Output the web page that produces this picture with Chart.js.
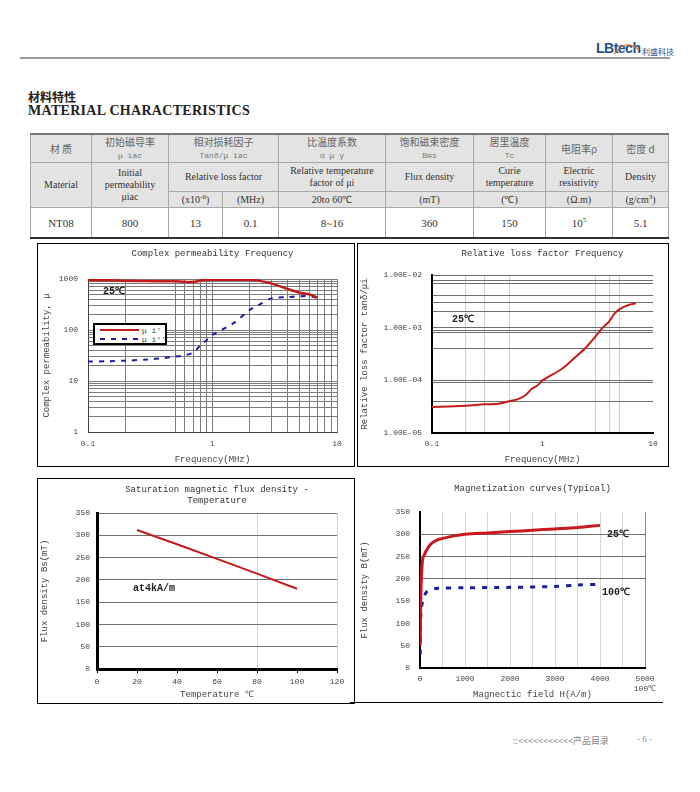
<!DOCTYPE html>
<html>
<head>
<meta charset="utf-8">
<script src="https://cdn.jsdelivr.net/npm/chart.js@4.4.0/dist/chart.umd.min.js"></script>
<style>
body{margin:0;background:#fff;}
#page{position:relative;width:700px;height:792px;overflow:hidden;background:#fff;color:#333;font-family:"Liberation Serif",serif;}
.abs{position:absolute;white-space:nowrap;}
.box{position:absolute;border:1px solid #000;box-sizing:border-box;pointer-events:none;}
canvas{position:absolute;}
table{position:absolute;left:30px;top:133px;width:638px;border-collapse:collapse;table-layout:fixed;}
td{border:1px solid #a8a8a8;text-align:center;vertical-align:middle;padding:0;font-size:10px;line-height:12px;color:#333;overflow:hidden;}
tr.h td{background:#e3e3e3;}
tr.r1 td{border-top:2px solid #777;height:27px;}
tr.r2 td{height:28px;}
tr.r3 td{height:15px;}
tr.r4 td{height:29px;border-bottom:2px solid #333;font-size:11px;background:#fff;}
.cn{font-family:"Noto Sans CJK SC",sans-serif;color:#666;font-size:10px;}
.sm{font-family:"Liberation Mono",monospace;font-size:8px;color:#777;}
sup{font-size:7px;line-height:0;vertical-align:super;}
#legend1{position:absolute;left:93px;top:323px;width:74px;height:22px;border:2px solid #000;box-sizing:border-box;background:#fff;}
</style>
</head>
<body>
<div id="page">
  <!-- header -->
  <div class="abs" style="left:596px;top:40px;font:bold 14px 'Liberation Sans',sans-serif;color:#1d4f91;letter-spacing:-0.5px;">LBtech</div>
  <svg class="abs" style="left:612px;top:40px;" width="30" height="18"><path d="M2 14 Q14 -2 27 10" stroke="#e07020" stroke-width="1.2" fill="none"/></svg>
  <div class="abs" style="left:642px;top:46px;font:8px 'Noto Sans CJK SC',sans-serif;color:#1d4f91;">利盛科技</div>
  <div class="abs" style="left:20px;top:57px;width:650px;height:2px;background:#9a9a9a;"></div>

  <div class="abs" style="left:28px;top:90px;font:bold 12px 'Noto Sans CJK SC',sans-serif;line-height:13px;color:#222;">材料特性</div>
  <div class="abs" style="left:28px;top:104px;font:bold 14px 'Liberation Serif',serif;line-height:14px;color:#222;letter-spacing:0.3px;">MATERIAL CHARACTERISTICS</div>

  <table>
    <colgroup><col style="width:61px"><col style="width:77px"><col style="width:54px"><col style="width:56px"><col style="width:107px"><col style="width:88px"><col style="width:72px"><col style="width:67px"><col style="width:56px"></colgroup>
    <tr class="h r1"><td class="cn">材 质</td><td class="cn">初始磁导率<br><span class="sm">μ iac</span></td><td colspan="2" class="cn">相对损耗因子<br><span class="sm">Tanδ/μ iac</span></td><td class="cn">比温度系数<br><span class="sm">α μ γ</span></td><td class="cn">饱和磁束密度<br><span class="sm">Bms</span></td><td class="cn">居里温度<br><span class="sm">Tc</span></td><td class="cn">电阻率ρ</td><td class="cn">密度 d</td></tr>
    <tr class="h r2"><td rowspan="2">Material</td><td rowspan="2">Initial<br>permeability<br>μiac</td><td colspan="2">Relative loss factor</td><td>Relative temperature<br>factor of μi</td><td>Flux density</td><td>Curie<br>temperature</td><td>Electric<br>resistivity</td><td>Density</td></tr>
    <tr class="h r3"><td>(x10<sup>-6</sup>)</td><td>(MHz)</td><td>20to 60℃</td><td>(mT)</td><td>(℃)</td><td>(Ω.m)</td><td>(g/cm<sup>3</sup>)</td></tr>
    <tr class="r4"><td>NT08</td><td>800</td><td>13</td><td>0.1</td><td>8~16</td><td>360</td><td>150</td><td>10<sup>5</sup></td><td>5.1</td></tr>
  </table>

  <!-- charts -->
  <canvas id="c1" width="317" height="223" style="left:37px;top:243px;"></canvas>
  <div class="box" style="left:37px;top:243px;width:318px;height:224px;"></div>
  <div id="legend1">
    <svg width="70" height="18" style="position:absolute;left:0;top:0;">
      <line x1="5" y1="5" x2="44" y2="5" stroke="#c41a1a" stroke-width="2"/>
      <text x="47" y="8" font-family="Liberation Mono" font-size="8" fill="#444">μ i'</text>
      <line x1="5" y1="14" x2="44" y2="14" stroke="#1c1ca0" stroke-width="2" stroke-dasharray="5,6"/>
      <text x="47" y="17" font-family="Liberation Mono" font-size="8" fill="#444">μ i''</text>
    </svg>
  </div>

  <canvas id="c2" width="311" height="223" style="left:357px;top:243px;"></canvas>
  <div class="box" style="left:357px;top:243px;width:312px;height:224px;"></div>

  <canvas id="c3" width="317" height="225" style="left:37px;top:478px;"></canvas>
  <div class="box" style="left:37px;top:478px;width:318px;height:226px;"></div>

  <canvas id="c4" width="311" height="225" style="left:357px;top:478px;"></canvas>
  <div class="abs" style="left:350px;top:702px;width:313px;height:1px;background:#000;"></div>

  <!-- footer -->
  <div class="abs" style="left:513px;top:734px;font:9px 'Noto Sans CJK SC',sans-serif;color:#888;">::&lt;&lt;&lt;&lt;&lt;&lt;&lt;&lt;&lt;&lt;&lt;产品目录</div>
  <div class="abs" style="left:637px;top:734px;font:9px 'Liberation Serif',serif;color:#888;">- 6 -</div>
</div>

<script>
// complex permeability vs frequency
const permFreq = [0.1, 0.15, 0.2, 0.3, 0.4, 0.5, 0.6, 0.7, 0.8, 0.9, 1, 1.5, 2, 2.3, 3, 4, 5, 6, 7];
const permReal = [960, 940, 920, 910, 905, 900, 880, 875, 930, 960, 965, 965, 965, 940, 810, 640, 540, 500, 430];
const permImag = [24, 24.5, 25, 26.5, 28, 30, 32, 36, 50, 64, 80, 140, 250, 300, 420, 440, 460, 460, 430];
const permFreqTicks = [0.1, 0.2, 0.5, 0.6, 0.7, 0.8, 0.9, 1, 2, 3, 4, 5, 6, 7, 8, 9, 10];
const permLevelTicks = [1, 2, 3, 4, 5, 6, 7, 8, 9, 10, 20, 30, 40, 50, 60, 70, 80, 90, 100, 200, 300, 400, 500, 600, 700, 800, 900, 1000];
const permFreqLabels = new Map([[0.1, '0.1'], [1, '1'], [10, '10']]);
const permLevelLabels = new Map([[1, '1'], [10, '10'], [100, '100'], [1000, '1000']]);

// relative loss factor vs frequency
const lossFreq = [0.1, 0.2, 0.3, 0.4, 0.5, 0.6, 0.7, 0.8, 0.9, 1, 1.5, 2, 2.5, 3, 3.5, 4, 4.5, 5, 6, 7];
const lossFactor = [3.1e-5, 3.3e-5, 3.5e-5, 3.6e-5, 4.0e-5, 4.4e-5, 5.2e-5, 6.9e-5, 8.0e-5, 1.0e-4, 1.66e-4, 2.8e-4, 4.3e-4, 6.7e-4, 1.0e-3, 1.3e-3, 1.87e-3, 2.25e-3, 2.7e-3, 2.9e-3];
const lossFreqTicks = [0.1, 0.2, 0.3, 0.5, 1, 3, 4, 5, 10];
const lossLevelTicks = [1e-5, 4e-5, 9e-5, 1e-4, 4e-4, 8e-4, 9e-4, 1e-3, 2e-3, 3e-3, 4e-3, 7e-3, 8e-3, 1e-2];
const lossLevelLabels = new Map([[1e-5, '1.00E-05'], [1e-4, '1.00E-04'], [1e-3, '1.00E-03'], [1e-2, '1.00E-02']]);

// saturation flux density vs temperature
const satTemp = [20, 40, 60, 80, 100];
const satFlux = [312, 280, 247, 214, 180];
const satGridX = [80, 120];

// magnetization curves
const magH25 = [5, 10, 20, 35, 60, 100, 150, 250, 400, 600, 800, 1000, 1500, 2000, 2500, 3000, 3500, 4000];
const magB25 = [50, 100, 170, 210, 245, 255, 265, 279, 288, 293, 297, 300, 303, 306, 309, 312, 315, 320];
const magH100 = [5, 10, 15, 25, 40, 80, 150, 250, 400, 1000, 2000, 3000, 3500, 4000];
const magB100 = [30, 70, 110, 125, 140, 158, 171, 176, 179, 180, 181, 183, 186, 188];
const magGridB = [200, 250, 300];

const mono = 'Liberation Mono';
const tickFont = {family: mono, size: 8};
const titleFont = {family: mono, size: 9, weight: 'normal'};
const clear = 'rgba(0,0,0,0)';

const notesPlugin = {
  id: 'notes',
  afterDatasetsDraw(chart, args, opts) {
    const {ctx, scales} = chart;
    (opts.items || []).forEach(n => {
      ctx.save();
      ctx.font = 'bold 10px "Liberation Mono"';
      ctx.fillStyle = '#222';
      ctx.textAlign = 'left';
      ctx.textBaseline = 'middle';
      ctx.fillText(n.text, scales.x.getPixelForValue(n.x), scales.y.getPixelForValue(n.y));
      ctx.restore();
    });
  }
};

function pts(xs, ys) {
  return xs.map((x, i) => ({x: x, y: ys[i]}));
}

function axisTitle(text, pad) {
  return {display: true, text: text, color: '#444', font: {family: mono, size: 9}, padding: pad};
}

new Chart(document.getElementById('c1'), {
  type: 'line',
  data: {
    datasets: [{
      label: "μ i'",
      data: pts(permFreq, permReal),
      borderColor: '#c41a1a', borderWidth: 2.5, pointRadius: 0, tension: 0.3
    }, {
      label: "μ i''",
      data: pts(permFreq, permImag),
      borderColor: '#1c1ca0', borderWidth: 2, borderDash: [5, 6], pointRadius: 0, tension: 0.3
    }]
  },
  options: {
    responsive: false,
    animation: false,
    layout: {padding: {left: 0, right: 17, top: 0, bottom: 0}},
    plugins: {
      legend: {display: false},
      tooltip: {enabled: false},
      title: {display: true, text: 'Complex permeability Frequency', fullSize: false, color: '#333', font: titleFont, padding: {top: 5, bottom: 20.2}},
      notes: {items: [{text: '25℃', x: 0.132, y: 582}]}
    },
    scales: {
      x: {
        type: 'logarithmic', min: 0.1, max: 10,
        afterBuildTicks: s => { s.ticks = permFreqTicks.map(v => ({value: v})); },
        afterFit: s => { s.height = 34; },
        ticks: {autoSkip: false, maxRotation: 0, padding: 7, color: '#444', font: tickFont, callback: v => permFreqLabels.get(v) || ''},
        grid: {color: '#7c7c7c', drawTicks: false},
        border: {color: '#444'},
        title: axisTitle('Frequency(MHz)', {top: 0, bottom: 1})
      },
      y: {
        type: 'logarithmic', min: 1, max: 1000,
        afterBuildTicks: s => { s.ticks = permLevelTicks.map(v => ({value: v})); },
        afterFit: s => { s.width = 51; },
        ticks: {autoSkip: false, padding: 10, color: '#444', font: tickFont, callback: v => permLevelLabels.get(v) || ''},
        grid: {color: '#7c7c7c', drawTicks: false},
        border: {color: '#444'},
        title: axisTitle('Complex permeability, μ', {top: 4.6, bottom: 0})
      }
    }
  },
  plugins: [notesPlugin]
});

new Chart(document.getElementById('c2'), {
  type: 'line',
  data: {
    datasets: [{
      label: 'tanδ/μi',
      data: pts(lossFreq, lossFactor),
      borderColor: '#c41a1a', borderWidth: 2, pointRadius: 0, tension: 0.3
    }]
  },
  options: {
    responsive: false,
    animation: false,
    layout: {padding: {left: 0, right: 15, top: 0, bottom: 0}},
    plugins: {
      legend: {display: false},
      tooltip: {enabled: false},
      title: {display: true, text: 'Relative loss factor Frequency', fullSize: false, color: '#333', font: titleFont, padding: {top: 5, bottom: 16.2}},
      notes: {items: [{text: '25℃', x: 0.152, y: 1.4e-3}]}
    },
    scales: {
      x: {
        type: 'logarithmic', min: 0.1, max: 10,
        afterBuildTicks: s => { s.ticks = lossFreqTicks.map(v => ({value: v})); },
        afterFit: s => { s.height = 33; },
        ticks: {autoSkip: false, maxRotation: 0, padding: 6, color: '#444', font: tickFont, callback: v => permFreqLabels.get(v) || ''},
        grid: {color: c => (c.tick && [0.1, 1, 10].includes(c.tick.value)) ? clear : '#cfcfcf', drawTicks: false},
        border: {color: '#000', width: 2},
        title: axisTitle('Frequency(MHz)', {top: 0, bottom: 1})
      },
      y: {
        type: 'logarithmic', min: 1e-5, max: 1e-2,
        afterBuildTicks: s => { s.ticks = lossLevelTicks.map(v => ({value: v})); },
        afterFit: s => { s.width = 75; },
        ticks: {autoSkip: false, padding: 10, color: '#444', font: tickFont, callback: v => lossLevelLabels.get(v) || ''},
        grid: {color: '#6e6e6e', drawTicks: false},
        border: {color: '#000', width: 2},
        title: axisTitle('Relative loss factor tanδ/μi', {top: 2.6, bottom: 0})
      }
    }
  },
  plugins: [notesPlugin]
});

new Chart(document.getElementById('c3'), {
  type: 'line',
  data: {
    datasets: [{
      label: 'Bs',
      data: pts(satTemp, satFlux),
      borderColor: '#c41a1a', borderWidth: 2, pointRadius: 0, tension: 0
    }]
  },
  options: {
    responsive: false,
    animation: false,
    layout: {padding: {left: 0, right: 17, top: 0, bottom: 0}},
    plugins: {
      legend: {display: false},
      tooltip: {enabled: false},
      title: {display: true, text: ['Saturation magnetic flux density -', 'Temperature'], fullSize: false, color: '#333', font: titleFont, padding: {top: 6, bottom: 7.4}},
      notes: {items: [{text: 'at4kA/m', x: 18, y: 180}]}
    },
    scales: {
      x: {
        type: 'linear', min: 0, max: 120,
        afterFit: s => { s.height = 34; },
        ticks: {stepSize: 20, autoSkip: false, maxRotation: 0, padding: 4, color: '#444', font: tickFont},
        grid: {color: c => (c.tick && satGridX.includes(c.tick.value)) ? '#d4d4d4' : clear, drawTicks: true, tickLength: 4, tickColor: '#000'},
        border: {color: '#000', width: 3},
        title: axisTitle('Temperature ℃', {top: 0, bottom: 3})
      },
      y: {
        min: 0, max: 350,
        afterFit: s => { s.width = 60; },
        ticks: {stepSize: 50, autoSkip: false, padding: 7, color: '#444', font: tickFont},
        grid: {color: c => (c.tick && c.tick.value > 0) ? '#6e6e6e' : clear, drawTicks: false},
        border: {color: '#000', width: 3},
        title: axisTitle('Flux density Bs(mT)', {top: 2.6, bottom: 0})
      }
    }
  },
  plugins: [notesPlugin]
});

new Chart(document.getElementById('c4'), {
  type: 'line',
  data: {
    datasets: [{
      label: '25℃',
      data: pts(magH25, magB25),
      borderColor: '#c8191e', borderWidth: 3, pointRadius: 0, tension: 0.3
    }, {
      label: '100℃',
      data: pts(magH100, magB100),
      borderColor: '#1c1ca0', borderWidth: 3, borderDash: [5, 7], pointRadius: 0, tension: 0.3
    }]
  },
  options: {
    responsive: false,
    animation: false,
    layout: {padding: {left: 0, right: 23, top: 0, bottom: 0}},
    plugins: {
      legend: {display: false},
      tooltip: {enabled: false},
      title: {display: true, text: 'Magnetization curves(Typical)', fullSize: false, color: '#333', font: titleFont, padding: {top: 5, bottom: 18.2}},
      notes: {items: [{text: '25℃', x: 4155, y: 300}, {text: '100℃', x: 4045, y: 170}]}
    },
    scales: {
      x: {
        type: 'linear', min: 0, max: 5000,
        afterFit: s => { s.height = 35; },
        ticks: {stepSize: 500, autoSkip: false, maxRotation: 0, padding: 6, color: '#444', font: tickFont,
          callback: v => v === 5000 ? ['5000', '100℃'] : (v % 1000 === 0 ? String(v) : '')},
        grid: {color: c => !c.tick || c.tick.value === 0 ? clear : (c.tick.value === 5000 ? '#8a8a8a' : '#d4d4d4'), drawTicks: false},
        border: {color: '#000', width: 2},
        title: axisTitle('Magnectic field H(A/m)', {top: 0, bottom: 3})
      },
      y: {
        min: 0, max: 350,
        afterFit: s => { s.width = 63; },
        ticks: {stepSize: 50, autoSkip: false, padding: 10, color: '#444', font: tickFont},
        grid: {color: c => (c.tick && magGridB.includes(c.tick.value)) ? '#6e6e6e' : clear, drawTicks: false},
        border: {color: '#000', width: 2},
        title: axisTitle('Flux density B(mT)', {top: 2.6, bottom: 0})
      }
    }
  },
  plugins: [notesPlugin]
});
</script>
</body>
</html>
